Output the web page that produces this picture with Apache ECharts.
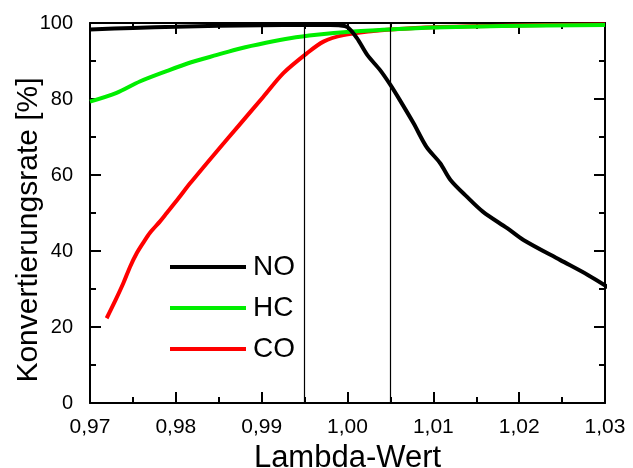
<!DOCTYPE html>
<html>
<head>
<meta charset="utf-8">
<script src="https://cdn.jsdelivr.net/npm/echarts@6/dist/echarts.min.js"></script>
<style>html,body{margin:0;padding:0;background:#fff}#c{width:633px;height:468px}</style>
</head>
<body>
<div id="c"></div>
<script>
var seriesNames = ['NO', 'HC', 'CO'];
var seriesColors = ['#000000', '#00ee00', '#ff0000'];
var noLambda = [0.970, 0.975, 0.980, 0.985, 0.990, 0.995, 0.998, 0.9990, 1.0000, 1.0011, 1.0023, 1.0038, 1.0050, 1.0061, 1.0077, 1.0092, 1.0108, 1.0120, 1.0139, 1.0158, 1.0186, 1.0205, 1.0248, 1.0280, 1.0304];
var noValues = [98.3, 98.7, 99.0, 99.3, 99.4, 99.5, 99.5, 99.4, 98.9, 96.0, 91.6, 87.6, 83.7, 79.7, 73.6, 67.4, 63.1, 58.7, 54.3, 50.3, 46.0, 42.9, 37.6, 33.7, 30.4];
var hcLambda = [0.970, 0.9731, 0.9758, 0.9790, 0.9817, 0.9848, 0.9875, 0.9905, 0.9933, 0.9964, 1.0003, 1.0050, 1.0100, 1.0180, 1.0300];
var hcValues = [79.3, 81.6, 84.6, 87.4, 89.6, 91.6, 93.3, 94.8, 96.0, 96.9, 97.7, 98.3, 98.8, 99.2, 99.5];
var coLambda = [0.97194, 0.97300, 0.97388, 0.97466, 0.97544, 0.97621, 0.97699, 0.97816, 0.97894, 0.98029, 0.98166, 0.98476, 0.98748, 0.99020, 0.99253, 0.99526, 0.99720, 0.99953, 1.0030, 1.0050, 1.0100, 1.0180, 1.0300];
var coValues = [22.3, 27.2, 31.5, 35.8, 39.4, 42.2, 44.8, 47.8, 50.0, 53.8, 57.8, 66.2, 73.4, 80.6, 86.8, 92.0, 95.1, 96.8, 97.9, 98.3, 98.9, 99.3, 99.6];
var refLines = [0.995, 1.005];
var yMin = 0, yMax = 100;
var xTitle = 'Lambda-Wert';
var yTitle = 'Konvertierungsrate [%]';

function pairs(xs, ys) { return xs.map(function (x, i) { return [x, ys[i]]; }); }

var font = 'Liberation Sans, Arial, sans-serif';
var chart = echarts.init(document.getElementById('c'), null, { renderer: 'canvas' });

var axisCommon = {
  axisLine: { show: true, onZero: false, lineStyle: { color: '#000', width: 2 } },
  axisTick: { show: true, inside: true, length: 11, lineStyle: { color: '#000', width: 2 } },
  minorTick: { show: true, splitNumber: 2, length: 6, lineStyle: { color: '#000', width: 2 } },
  splitLine: { show: false }
};

var xFmt = function (v) { return v.toFixed(2).replace('.', ','); };

var datas = [pairs(noLambda, noValues), pairs(hcLambda, hcValues), pairs(coLambda, coValues)];

var series = seriesNames.map(function (n, i) {
  return {
    name: n, type: 'line', data: datas[i], symbol: 'none', smooth: 0.3,
    lineStyle: { color: seriesColors[i], width: 4 }, itemStyle: { color: seriesColors[i] },
    xAxisIndex: 0, yAxisIndex: 0, z: 5 - i
  };
});
series[0].markLine = {
  silent: true, symbol: 'none', label: { show: false }, precision: 4,
  lineStyle: { color: '#000', width: 1.2, type: 'solid' },
  data: refLines.map(function (v) { return [{ coord: [v, yMin] }, { coord: [v, yMax] }]; })
};

chart.setOption({
  animation: false,
  backgroundColor: '#fff',
  grid: { left: 90, right: 28, top: 23, bottom: 65, containLabel: false, outerBoundsMode: 'none' },
  legend: {
    data: seriesNames, orient: 'vertical', left: 165, top: 247,
    itemWidth: 76, itemHeight: 14, itemGap: 11,
    icon: 'path://M0,0 L76,0 L76,4 L0,4 Z',
    textStyle: { fontFamily: font, fontSize: 28, color: '#000', lineHeight: 30, padding: [0, 0, 0, 2] }
  },
  xAxis: [
    Object.assign({}, axisCommon, {
      type: 'value', min: 0.97, max: 1.03, interval: 0.01, position: 'bottom',
      axisLabel: { formatter: xFmt, fontFamily: font, fontSize: 21, color: '#000', margin: 14 },
      name: xTitle, nameLocation: 'middle', nameGap: 40, nameMoveOverlap: false,
      nameTextStyle: { fontFamily: font, fontSize: 31, color: '#000' }
    }),
    Object.assign({}, axisCommon, {
      type: 'value', min: 0.97, max: 1.03, interval: 0.01, position: 'top',
      axisLabel: { show: false }
    })
  ],
  yAxis: [
    Object.assign({}, axisCommon, {
      type: 'value', min: yMin, max: yMax, interval: 20, position: 'left',
      axisLabel: { fontFamily: font, fontSize: 20, color: '#000', margin: 17 },
      name: yTitle, nameLocation: 'middle', nameGap: 46, nameRotate: 90, nameMoveOverlap: false,
      nameTextStyle: { fontFamily: font, fontSize: 30, color: '#000', padding: [0, 34, 0, 0] }
    }),
    Object.assign({}, axisCommon, {
      type: 'value', min: yMin, max: yMax, interval: 20, position: 'right',
      axisLabel: { show: false }
    })
  ],
  series: series
});
</script>
</body>
</html>
